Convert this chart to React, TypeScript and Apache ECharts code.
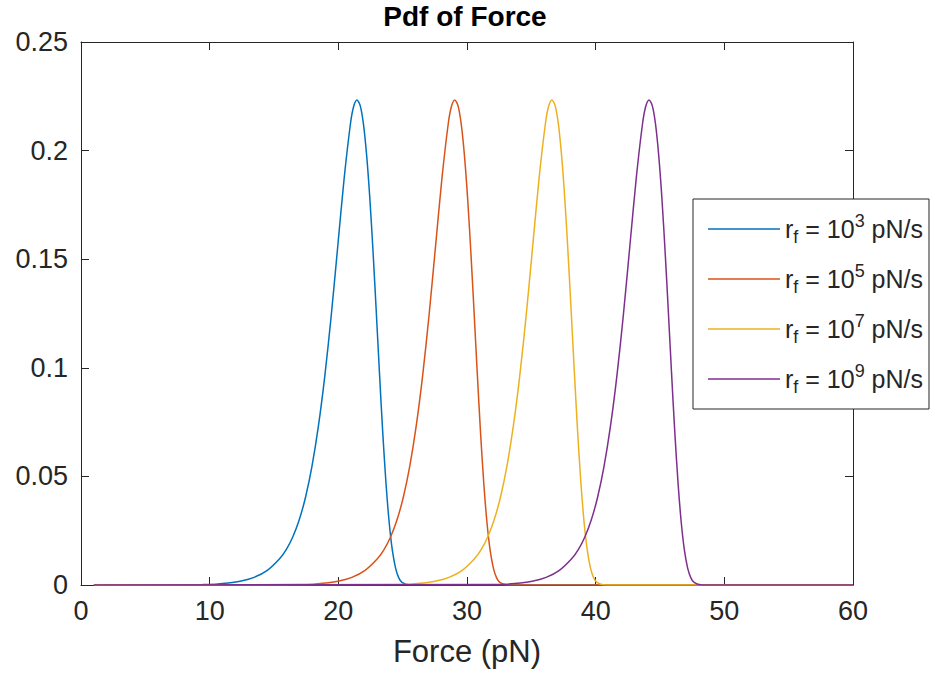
import React, { useEffect, useRef } from "react";
import * as echarts from "echarts";

const FONT = "'Liberation Sans', Arial, Helvetica, sans-serif";
const AXIS_COLOR = "#262626";

// Loading-rate exponents (r_f = 10^n pN/s) and line colours, one per curve
const rateExponents = ["3", "5", "7", "9"];
const lineColors = ["#0072BD", "#D95319", "#EDB120", "#7E2F8E"];

// Axis ranges and tick labels
const forceRange = [0, 60];
const forceStep = 10;
const pdfRange = [0, 0.25];
const pdfStep = 0.05;
const pdfTickLabels = ["0", "0.05", "0.1", "0.15", "0.2", "0.25"];

// r_f = 10^3 pN/s
const force3 = [1, 9.45, 10.45, 11.45, 12.45, 13.45, 14.45, 15.45, 15.95, 16.45, 16.95, 17.45, 17.95, 18.45, 18.95, 19.45, 19.95, 20.45, 20.95, 21.2, 21.45, 21.7, 21.95, 22.2, 22.45, 22.7, 22.95, 23.2, 23.45, 23.7, 23.95, 24.2, 24.45, 24.7, 24.95, 25.45, 25.95, 60];
const pdf3 = [0, 0.0002, 0.0004, 0.0009, 0.0018, 0.0035, 0.0066, 0.0122, 0.0163, 0.022, 0.0298, 0.0404, 0.0546, 0.0731, 0.0963, 0.1242, 0.1556, 0.1871, 0.2127, 0.2205, 0.2233, 0.2207, 0.2123, 0.1978, 0.1779, 0.1532, 0.1257, 0.0973, 0.0704, 0.0472, 0.0289, 0.0159, 0.0078, 0.0033, 0.0012, 0.0001, 0, 0];

// r_f = 10^5 pN/s
const force5 = [1, 17.05, 18.05, 19.05, 20.05, 21.05, 22.05, 23.05, 23.55, 24.05, 24.55, 25.05, 25.55, 26.05, 26.55, 27.05, 27.55, 28.05, 28.55, 28.8, 29.05, 29.3, 29.55, 29.8, 30.05, 30.3, 30.55, 30.8, 31.05, 31.3, 31.55, 31.8, 32.05, 32.3, 32.55, 33.05, 33.55, 60];
const pdf5 = [0, 0.0002, 0.0004, 0.0009, 0.0018, 0.0035, 0.0066, 0.0122, 0.0163, 0.022, 0.0298, 0.0404, 0.0546, 0.0731, 0.0963, 0.1242, 0.1556, 0.1871, 0.2127, 0.2205, 0.2233, 0.2207, 0.2123, 0.1978, 0.1779, 0.1532, 0.1257, 0.0973, 0.0704, 0.0472, 0.0289, 0.0159, 0.0078, 0.0033, 0.0012, 0.0001, 0, 0];

// r_f = 10^7 pN/s
const force7 = [1, 24.6, 25.6, 26.6, 27.6, 28.6, 29.6, 30.6, 31.1, 31.6, 32.1, 32.6, 33.1, 33.6, 34.1, 34.6, 35.1, 35.6, 36.1, 36.35, 36.6, 36.85, 37.1, 37.35, 37.6, 37.85, 38.1, 38.35, 38.6, 38.85, 39.1, 39.35, 39.6, 39.85, 40.1, 40.6, 41.1, 60];
const pdf7 = [0, 0.0002, 0.0004, 0.0009, 0.0018, 0.0035, 0.0066, 0.0122, 0.0163, 0.022, 0.0298, 0.0404, 0.0546, 0.0731, 0.0963, 0.1242, 0.1556, 0.1871, 0.2127, 0.2205, 0.2233, 0.2207, 0.2123, 0.1978, 0.1779, 0.1532, 0.1257, 0.0973, 0.0704, 0.0472, 0.0289, 0.0159, 0.0078, 0.0033, 0.0012, 0.0001, 0, 0];

// r_f = 10^9 pN/s
const force9 = [1, 32.15, 33.15, 34.15, 35.15, 36.15, 37.15, 38.15, 38.65, 39.15, 39.65, 40.15, 40.65, 41.15, 41.65, 42.15, 42.65, 43.15, 43.65, 43.9, 44.15, 44.4, 44.65, 44.9, 45.15, 45.4, 45.65, 45.9, 46.15, 46.4, 46.65, 46.9, 47.15, 47.4, 47.65, 48.15, 48.65, 60];
const pdf9 = [0, 0.0002, 0.0004, 0.0009, 0.0018, 0.0035, 0.0066, 0.0122, 0.0163, 0.022, 0.0298, 0.0404, 0.0546, 0.0731, 0.0963, 0.1242, 0.1556, 0.1871, 0.2127, 0.2205, 0.2233, 0.2207, 0.2123, 0.1978, 0.1779, 0.1532, 0.1257, 0.0973, 0.0704, 0.0472, 0.0289, 0.0159, 0.0078, 0.0033, 0.0012, 0.0001, 0, 0];

const curves = [
  { force: force3, pdf: pdf3 },
  { force: force5, pdf: pdf5 },
  { force: force7, pdf: pdf7 },
  { force: force9, pdf: pdf9 },
];

const seriesName = (exp: string) => `r_f = 10^${exp} pN/s`;

export default function App() {
  const ref = useRef<HTMLDivElement>(null);

  useEffect(() => {
    if (!ref.current) return;
    const chart = echarts.init(ref.current, undefined, { renderer: "svg" });

    const tickLabel = { fontFamily: FONT, fontSize: 27, color: AXIS_COLOR };
    const axisLine = { show: true, onZero: false, lineStyle: { color: AXIS_COLOR, width: 1 } };
    const axisTick = { show: true, inside: true, length: 8, lineStyle: { color: AXIS_COLOR, width: 1 } };

    const xBase = {
      type: "value" as const,
      min: forceRange[0],
      max: forceRange[1],
      interval: forceStep,
      splitLine: { show: false },
      axisLine,
      axisTick,
    };
    const yBase = {
      type: "value" as const,
      min: pdfRange[0],
      max: pdfRange[1],
      interval: pdfStep,
      splitLine: { show: false },
      axisLine,
      axisTick,
    };

    chart.setOption({
      animation: false,
      backgroundColor: "#ffffff",
      title: {
        text: "Pdf of Force",
        left: "center",
        top: 2,
        padding: 0,
        textStyle: { fontFamily: FONT, fontSize: 28, fontWeight: "bold", color: "#000000" },
      },
      grid: { left: 81, right: 77, top: 42, bottom: 98, containLabel: false },
      xAxis: [
        {
          ...xBase,
          position: "bottom",
          axisLabel: { ...tickLabel, margin: 12 },
          name: "Force (pN)",
          nameLocation: "middle",
          nameGap: 51,
          nameTextStyle: { fontFamily: FONT, fontSize: 31, color: AXIS_COLOR },
        },
        { ...xBase, position: "top", axisLabel: { show: false } },
      ],
      yAxis: [
        {
          ...yBase,
          position: "left",
          axisLabel: {
            ...tickLabel,
            margin: 13,
            formatter: (_v: number, i: number) => pdfTickLabels[i],
          },
        },
        { ...yBase, position: "right", axisLabel: { show: false } },
      ],
      legend: {
        orient: "vertical",
        left: 693,
        top: 199,
        padding: [13, 6, 13, 15],
        itemGap: 16,
        itemWidth: 72,
        itemHeight: 1.5,
        icon: "rect",
        borderColor: AXIS_COLOR,
        borderWidth: 1,
        backgroundColor: "#ffffff",
        selectedMode: false,
        data: rateExponents.map(seriesName),
        formatter: (name: string) => {
          const exp = name.split("^")[1].split(" ")[0];
          return `{t|r}{sub|f}{t| = 10}{sup|${exp}}{t| pN/s}`;
        },
        textStyle: {
          fontFamily: FONT,
          color: AXIS_COLOR,
          rich: {
            t: { fontFamily: FONT, fontSize: 25, lineHeight: 34, verticalAlign: "middle", color: AXIS_COLOR },
            sup: { fontFamily: FONT, fontSize: 18, lineHeight: 17, verticalAlign: "top", color: AXIS_COLOR },
            sub: { fontFamily: FONT, fontSize: 18, lineHeight: 17, verticalAlign: "bottom", color: AXIS_COLOR },
          },
        },
      },
      series: curves.map((c, i) => ({
        name: seriesName(rateExponents[i]),
        type: "line",
        xAxisIndex: 0,
        yAxisIndex: 0,
        data: c.force.map((f, k) => [f, c.pdf[k]]),
        showSymbol: false,
        symbol: "none",
        smooth: 0.3,
        lineStyle: { color: lineColors[i], width: 1.5 },
        itemStyle: { color: lineColors[i] },
      })),
    });

    return () => chart.dispose();
  }, []);

  return (
    <div
      ref={ref}
      style={{ position: "fixed", left: 0, top: 0, width: 930, height: 683, background: "#fff" }}
    />
  );
}
